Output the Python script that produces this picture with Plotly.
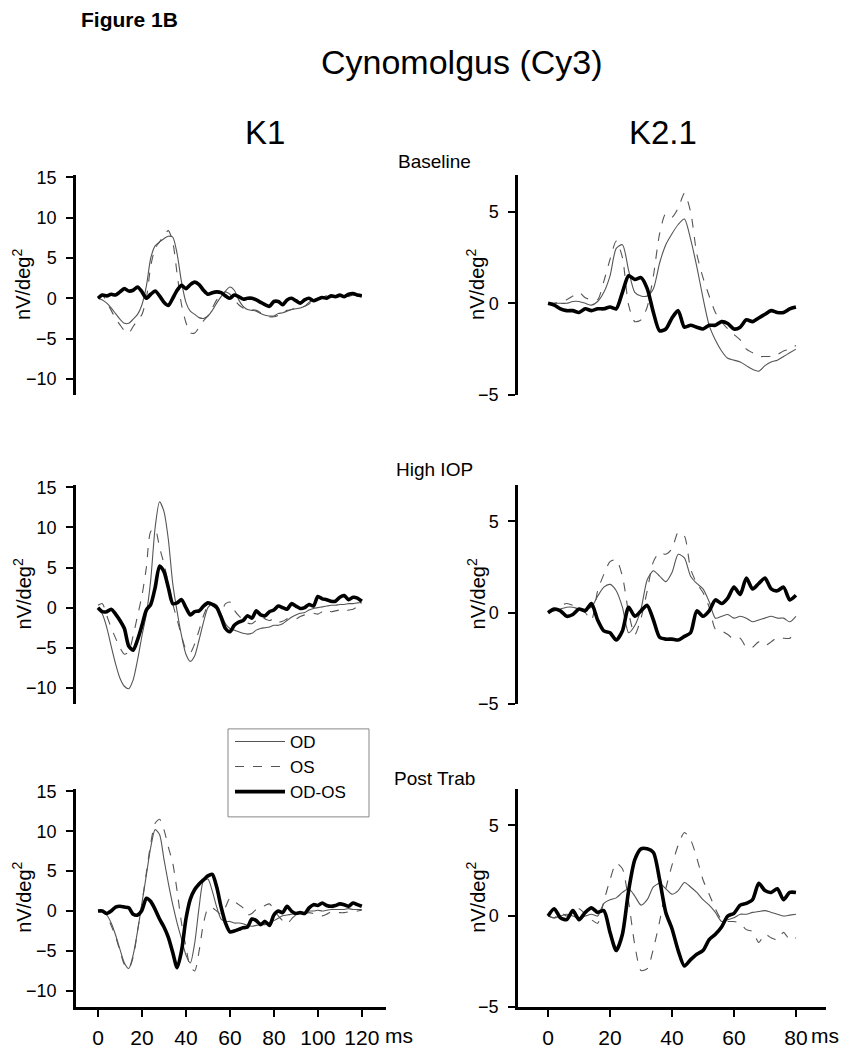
import plotly.graph_objects as go
from plotly.subplots import make_subplots

# ---------------- data ----------------
t_k1 = list(range(0, 121, 2))
t_k2 = list(range(0, 81, 2))

# K1 Baseline
od_k1_base = [0.0, -0.2, -0.6, -1.2, -1.9, -2.6, -3.1, -3.1, -2.6, -2.0, -0.8, 1.5, 5.0, 6.5, 7.0, 7.4, 7.7, 7.6, 5.5, 2.0,
              -0.5, -1.6, -2.0, -2.4, -2.5, -2.2, -1.5, -0.6, 0.2, 0.9, 1.4, 1.0, -0.2, -1.0, -1.4, -1.5, -1.6, -1.9, -2.1, -2.2,
              -2.2, -1.9, -1.8, -1.6, -1.4, -1.3, -1.2, -1.0, -0.5, -0.2, 0.0, 0.1, 0.0, 0.2, 0.1, 0.2, 0.3, 0.2, 0.4, 0.3, 0.3]
os_k1_base = [0.2, 0.4, -0.5, -1.5, -2.5, -3.3, -4.0, -4.3, -3.5, -2.7, -2.0, 0.0, 4.0, 6.2, 7.0, 7.8, 8.4, 7.0, 3.0, -0.8,
              -3.0, -4.3, -4.3, -3.6, -2.8, -2.2, -1.2, -0.2, 0.5, 0.8, 0.5, -0.2, -0.8, -1.2, -1.3, -1.4, -1.5, -1.8, -2.1, -2.3,
              -2.3, -2.1, -1.7, -1.5, -1.4, -1.2, -1.1, -1.0, -0.7, -0.3, 0.0, 0.1, 0.3, 0.2, 0.3, 0.4, 0.3, 0.4, 0.5, 0.3, 0.4]
diff_k1_base = [0.0, 0.4, 0.3, 0.5, 0.4, 0.8, 1.2, 0.9, 1.0, 1.4, 0.8, 0.0, 0.5, 0.9, 0.3, -0.5, -0.9, 0.0, 1.0, 1.6,
                1.2, 1.7, 2.0, 1.7, 1.0, 0.5, 0.7, 0.8, 0.7, 0.3, 0.0, 0.4, 0.2, -0.1, 0.0, 0.0, -0.2, -0.5, -0.8, -1.0,
                -0.4, -0.4, -0.8, -0.2, 0.0, -0.3, -0.6, -0.2, 0.0, -0.3, -0.1, 0.1, 0.0, 0.3, 0.2, 0.4, 0.2, 0.5, 0.6, 0.4, 0.3]

# K1 High IOP
od_k1_high = [0.0, -0.8, -2.5, -4.8, -7.0, -8.8, -9.8, -10.1, -9.0, -6.5, -3.5, -0.8, 3.5, 10.0, 13.2, 12.0, 8.5, 3.0, -0.5, -3.5,
              -5.8, -6.7, -6.0, -4.0, -1.8, 0.0, 0.5, 0.3, -0.8, -2.0, -2.6, -2.8, -3.0, -3.2, -3.3, -3.2, -2.8, -2.6, -2.5, -2.4,
              -2.2, -2.2, -2.0, -1.6, -1.2, -0.9, -0.7, -0.6, -0.3, -0.1, 0.0, 0.1, 0.2, 0.3, 0.3, 0.4, 0.4, 0.5, 0.5, 0.6, 0.6]
os_k1_high = [0.3, 0.5, -1.0, -2.5, -3.8, -5.0, -5.8, -5.5, -3.5, -1.0, 1.5, 5.0, 9.5, 9.8, 7.5, 5.5, 3.0, 0.5, -1.5, -3.5,
              -5.2, -5.6, -4.5, -2.8, -1.0, 0.2, 0.5, 0.2, -0.5, 0.5, 0.7, -0.3, -1.0, -1.5, -1.9, -2.0, -1.6, -1.2, -1.4, -1.6,
              -1.4, -1.8, -1.7, -1.4, -1.3, -1.4, -1.1, -0.9, -0.8, -0.7, -0.8, -0.5, -0.2, -0.5, -0.4, -0.3, -0.5, -0.3, -0.2, 0.1, -0.1]
diff_k1_high = [0.0, -0.5, -0.5, -0.2, -0.8, -1.6, -2.6, -4.8, -5.3, -4.0, -2.2, -0.3, 0.4, 2.5, 5.2, 4.5, 2.5, 0.5, 0.6, 1.0,
                0.0, -0.9, -0.5, -0.4, 0.2, 0.6, 0.4, 0.0, -1.2, -2.6, -3.0, -2.2, -1.8, -1.6, -1.0, -1.3, -0.4, -0.9, -1.0, -0.5,
                -0.3, 0.2, 0.0, -0.2, 0.5, 0.2, -0.1, 0.0, 0.4, 0.2, 1.4, 1.1, 1.0, 0.8, 0.8, 1.3, 1.5, 1.0, 1.3, 1.2, 0.8]

# K1 Post Trab
od_k1_post = [0.0, 0.0, -0.5, -1.5, -3.0, -4.8, -6.5, -7.2, -5.5, -2.5, 1.0, 4.5, 8.0, 10.2, 9.6, 6.5, 3.5, 0.8, -1.5, -3.5,
              -5.5, -6.5, -4.0, 0.5, 3.8, 4.0, 2.5, 0.5, -1.0, -1.3, -1.3, -1.5, -1.5, -1.6, -1.8, -1.9, -1.8, -1.7, -1.7, -1.5,
              -1.2, -0.9, -0.6, -0.5, -0.4, -0.3, -0.3, -0.2, 0.0, 0.0, 0.1, 0.0, 0.1, 0.2, 0.2, 0.2, 0.2, 0.3, 0.2, 0.2, 0.2]
os_k1_post = [0.0, 0.0, -0.6, -1.8, -3.2, -5.0, -6.7, -7.2, -5.8, -2.5, 1.0, 4.8, 8.5, 11.0, 11.5, 10.2, 8.0, 6.0, 2.5, -1.5,
              -4.5, -7.0, -7.5, -5.0, -1.5, 0.3, 0.4, 0.0, -0.4, 0.5, 1.6, 1.2, 0.8, 0.4, -0.5, -0.3, 0.2, 0.4, 0.7, 0.9,
              0.2, -0.6, -1.2, -1.6, -1.0, -0.5, -0.4, -0.3, -0.2, -0.3, -0.4, -0.6, -0.4, -0.1, -0.1, -0.2, -0.2, -0.1, -0.1, 0.0, 0.1]
diff_k1_post = [0.0, 0.0, -0.3, 0.0, 0.5, 0.6, 0.5, 0.4, -0.4, -0.5, 0.1, 1.6, 1.2, 0.2, -1.0, -2.0, -3.3, -5.2, -7.1, -5.0,
                -1.0, 1.5, 2.7, 3.4, 3.9, 4.4, 4.6, 3.0, 0.5, -1.5, -2.6, -2.5, -2.3, -2.1, -2.0, -1.0, -1.2, -1.7, -1.3, -1.8,
                -0.5, 0.0, -0.2, 0.6, 0.0, -0.3, -0.2, -0.3, 0.4, 0.8, 0.7, 1.0, 0.7, 0.6, 0.7, 0.9, 0.8, 0.6, 1.0, 0.8, 0.6]

# K2.1 Baseline
od_k2_base = [0.0, 0.0, 0.0, 0.0, 0.1, 0.1, 0.0, -0.1, 0.1, 0.6, 1.5, 3.0, 3.2, 1.8, 0.6, 0.4, 0.4, 0.8, 2.2, 3.2,
              3.8, 4.3, 4.6, 3.5, 2.0, 0.3, -1.2, -2.0, -2.6, -3.0, -3.1, -3.2, -3.4, -3.6, -3.7, -3.4, -3.2, -3.1, -2.9, -2.7, -2.5]
os_k2_base = [0.0, 0.0, 0.1, 0.2, 0.4, 0.6, 0.3, 0.2, 0.2, 1.2, 2.4, 3.4, 2.5, -0.1, -1.0, -0.9, -0.2, 1.5, 3.8, 4.9,
              4.7, 5.2, 6.0, 5.0, 2.7, 1.4, 0.4, -0.5, -1.0, -1.4, -1.7, -2.0, -2.5, -2.7, -2.9, -2.9, -2.9, -2.8, -2.6, -2.5, -2.3]
diff_k2_base = [0.0, -0.1, -0.3, -0.4, -0.4, -0.5, -0.3, -0.4, -0.3, -0.3, -0.2, -0.3, 0.6, 1.5, 1.3, 1.4, 0.8, -0.5, -1.5, -1.4,
                -0.8, -0.4, -1.3, -1.2, -1.3, -1.4, -1.2, -1.2, -1.0, -1.1, -1.4, -1.3, -0.9, -1.0, -0.8, -0.6, -0.4, -0.5, -0.5, -0.3, -0.2]

# K2.1 High IOP
od_k2_high = [0.0, 0.1, 0.2, 0.3, 0.3, 0.2, 0.2, 0.3, 0.9, 1.4, 1.55, 1.2, 0.3, -1.1, -0.7, 0.2, 1.8, 2.3, 2.0, 1.7,
              2.2, 3.2, 3.0, 2.0, 1.6, 1.3, 0.6, -0.3, -0.2, -0.1, -0.3, -0.2, -0.3, -0.5, -0.4, -0.3, -0.2, -0.3, -0.3, -0.5, -0.2]
os_k2_high = [0.0, 0.2, 0.4, 0.5, 0.4, 0.2, 0.0, -0.4, 1.2, 2.1, 2.8, 2.9, 2.0, 0.0, -1.2, -0.3, 1.2, 2.8, 3.3, 3.2,
              3.5, 4.4, 4.2, 2.4, 1.6, 1.1, 0.3, -0.9, -1.0, -1.2, -1.45, -1.4, -1.9, -1.9, -1.6, -1.8, -1.6, -1.35, -1.4, -1.4, -1.0]
diff_k2_high = [0.0, 0.2, 0.1, -0.2, -0.1, 0.2, 0.1, 0.5, -0.4, -1.0, -1.1, -1.5, -1.0, 0.3, -0.2, 0.1, 0.4, -0.4, -1.35, -1.45,
                -1.45, -1.5, -1.3, -1.1, 0.1, -0.2, 0.1, 0.7, 0.5, 0.8, 1.4, 1.0, 1.9, 1.3, 1.6, 1.9, 1.3, 1.2, 1.4, 0.7, 0.95]

# K2.1 Post Trab
od_k2_post = [0.0, -0.1, 0.0, 0.1, 0.0, -0.1, 0.0, 0.1, 0.0, 0.7, 0.9, 1.0, 1.3, 1.5, 1.1, 0.6, 0.9, 1.6, 1.8, 1.5,
              1.2, 1.4, 1.85, 1.6, 1.3, 0.9, 0.6, 0.2, -0.3, -0.2, -0.1, 0.1, 0.1, 0.2, 0.25, 0.3, 0.2, 0.1, 0.0, 0.05, 0.1]
os_k2_post = [0.0, -0.1, 0.2, 0.0, 0.2, 0.4, 0.1, -0.2, -0.4, 0.8, 2.0, 2.9, 2.6, 0.8, -1.6, -3.0, -2.9, -1.8, -0.3, 1.5,
              2.8, 3.9, 4.6, 4.2, 3.2, 2.0, 1.2, 0.4, -0.2, -0.3, -0.3, -0.4, -0.75, -0.85, -1.45, -1.0, -1.2, -1.3, -0.9, -1.3, -1.2]
diff_k2_post = [0.0, 0.4, -0.1, -0.2, 0.3, -0.2, 0.2, 0.45, 0.2, 0.3, -0.9, -1.9, -1.0, 1.4, 3.1, 3.7, 3.7, 3.5, 2.0, 0.2,
                -0.7, -1.9, -2.75, -2.4, -2.1, -1.9, -1.3, -1.0, -0.6, 0.0, 0.15, 0.6, 0.7, 0.9, 1.8, 1.4, 1.3, 1.5, 0.9, 1.3, 1.3]

series_names = ["OD", "OS", "OD-OS"]
conditions = ["Baseline", "High IOP", "Post Trab"]
k1_ticks = [-10, -5, 0, 5, 10, 15]
k2_ticks = [-5, 0, 5]
k1_xticks = [0, 20, 40, 60, 80, 100, 120]
k2_xticks = [0, 20, 40, 60, 80]

panels = [
    (1, 1, t_k1, od_k1_base, os_k1_base, diff_k1_base),
    (1, 2, t_k2, od_k2_base, os_k2_base, diff_k2_base),
    (2, 1, t_k1, od_k1_high, os_k1_high, diff_k1_high),
    (2, 2, t_k2, od_k2_high, os_k2_high, diff_k2_high),
    (3, 1, t_k1, od_k1_post, os_k1_post, diff_k1_post),
    (3, 2, t_k2, od_k2_post, os_k2_post, diff_k2_post),
]

# ---------------- figure ----------------
W, H = 838, 1050
FONT = "Liberation Sans, Arial, sans-serif"
# screen placement calibration (page margin / capture scaling)
X_OFF = 7
Y_OFF, Y_SCALE = 15.2, 0.984

def px_x(p):
    return (p - X_OFF) / W

def px_y(p):
    return 1 - (p / Y_SCALE - Y_OFF) / H

fig = make_subplots(rows=3, cols=2)

styles = [
    dict(color="#555555", width=1.1, dash="solid", shape="spline", smoothing=0.7),
    dict(color="#555555", width=1.1, dash="dash", shape="spline", smoothing=0.7),
    dict(color="#000000", width=3.6, dash="solid", shape="spline", smoothing=0.7),
]

for i, (r, c, t, od, os_, df) in enumerate(panels):
    for j, (name, ys) in enumerate(zip(series_names, [od, os_, df])):
        fig.add_trace(
            go.Scatter(x=t, y=ys, mode="lines", name=name, line=styles[j],
                       showlegend=(i == 0), legendrank=j + 1),
            row=r, col=c,
        )

row_px = [(175, 395), (485, 704), (789, 1007)]
col_px = [(75, 385), (517, 825)]

for r in range(1, 4):
    for c in range(1, 3):
        idx = (r - 1) * 2 + c
        xa = "xaxis" if idx == 1 else f"xaxis{idx}"
        ya = "yaxis" if idx == 1 else f"yaxis{idx}"
        top, bot = row_px[r - 1]
        lft, rgt = col_px[c - 1]
        bottom_row = (r == 3)
        if c == 1:
            xr, yr, ytv, xtv = [-10, 131], [-12, 15.3], k1_ticks, k1_xticks
        else:
            xr, yr, ytv, xtv = [-9.7, 89.7], [-5, 7], k2_ticks, k2_xticks
        fig.layout[xa].update(
            domain=[px_x(lft), px_x(rgt)], range=xr, showgrid=False, zeroline=False,
            visible=bottom_row, showline=bottom_row, linecolor="black", linewidth=2.5,
            ticks="outside" if bottom_row else "", ticklen=7, tickwidth=2, tickcolor="black",
            tickvals=xtv, tickfont=dict(family=FONT, size=21, color="black"),
            ticklabelstandoff=3,
        )
        fig.layout[ya].update(
            domain=[px_y(bot), px_y(top)], range=yr, showgrid=False, zeroline=False,
            showline=True, linecolor="black", linewidth=2.5,
            ticks="outside", ticklen=7, tickwidth=2, tickcolor="black",
            tickvals=ytv, tickfont=dict(family=FONT, size=18, color="black"),
            ticklabelstandoff=6,
        )

annotations = [
    dict(text="<b>Figure 1B</b>", x=px_x(78), y=px_y(19), xanchor="left", yanchor="middle",
         font=dict(family=FONT, size=21, color="black")),
    dict(text="Cynomolgus (Cy3)", x=px_x(461), y=px_y(62), xanchor="center", yanchor="middle",
         font=dict(family=FONT, size=34, color="black")),
    dict(text="K1", x=px_x(264), y=px_y(132), xanchor="center", yanchor="middle",
         font=dict(family=FONT, size=33, color="black")),
    dict(text="K2.1", x=px_x(662), y=px_y(132), xanchor="center", yanchor="middle",
         font=dict(family=FONT, size=33, color="black")),
]
for cond, ypx in zip(conditions, [161, 470, 779]):
    annotations.append(dict(text=cond, x=px_x(433), y=px_y(ypx), xanchor="center", yanchor="middle",
                            font=dict(family=FONT, size=19, color="black")))
for (top, bot) in row_px:
    for xpx in (21, 475):
        annotations.append(dict(text="nV/deg<sup>2</sup>", x=px_x(xpx), y=px_y((top + bot) / 2),
                                xanchor="center", yanchor="middle", textangle=-90,
                                font=dict(family=FONT, size=20, color="black")))
for xpx in (398, 824):
    annotations.append(dict(text="ms", x=px_x(xpx), y=px_y(1036), xanchor="center", yanchor="middle",
                            font=dict(family=FONT, size=21, color="black")))
for a in annotations:
    a.update(xref="paper", yref="paper", showarrow=False)

# legend frame
shapes = [dict(type="rect", xref="paper", yref="paper",
               x0=px_x(227), x1=px_x(368), y0=px_y(817), y1=px_y(729),
               line=dict(color="#888888", width=1), fillcolor="white", layer="below")]

fig.update_layout(
    width=W, height=H, autosize=False,
    margin=dict(l=0, r=0, t=0, b=0, pad=0),
    paper_bgcolor="white", plot_bgcolor="white",
    annotations=annotations,
    shapes=shapes,
    showlegend=True,
    legend=dict(x=px_x(229), y=px_y(724), xanchor="left", yanchor="top",
                bgcolor="rgba(0,0,0,0)", borderwidth=0,
                font=dict(family=FONT, size=17, color="black"),
                traceorder="normal", itemwidth=50, tracegroupgap=0),
    font=dict(family=FONT, color="black"),
)

fig.write_html("out.html")
